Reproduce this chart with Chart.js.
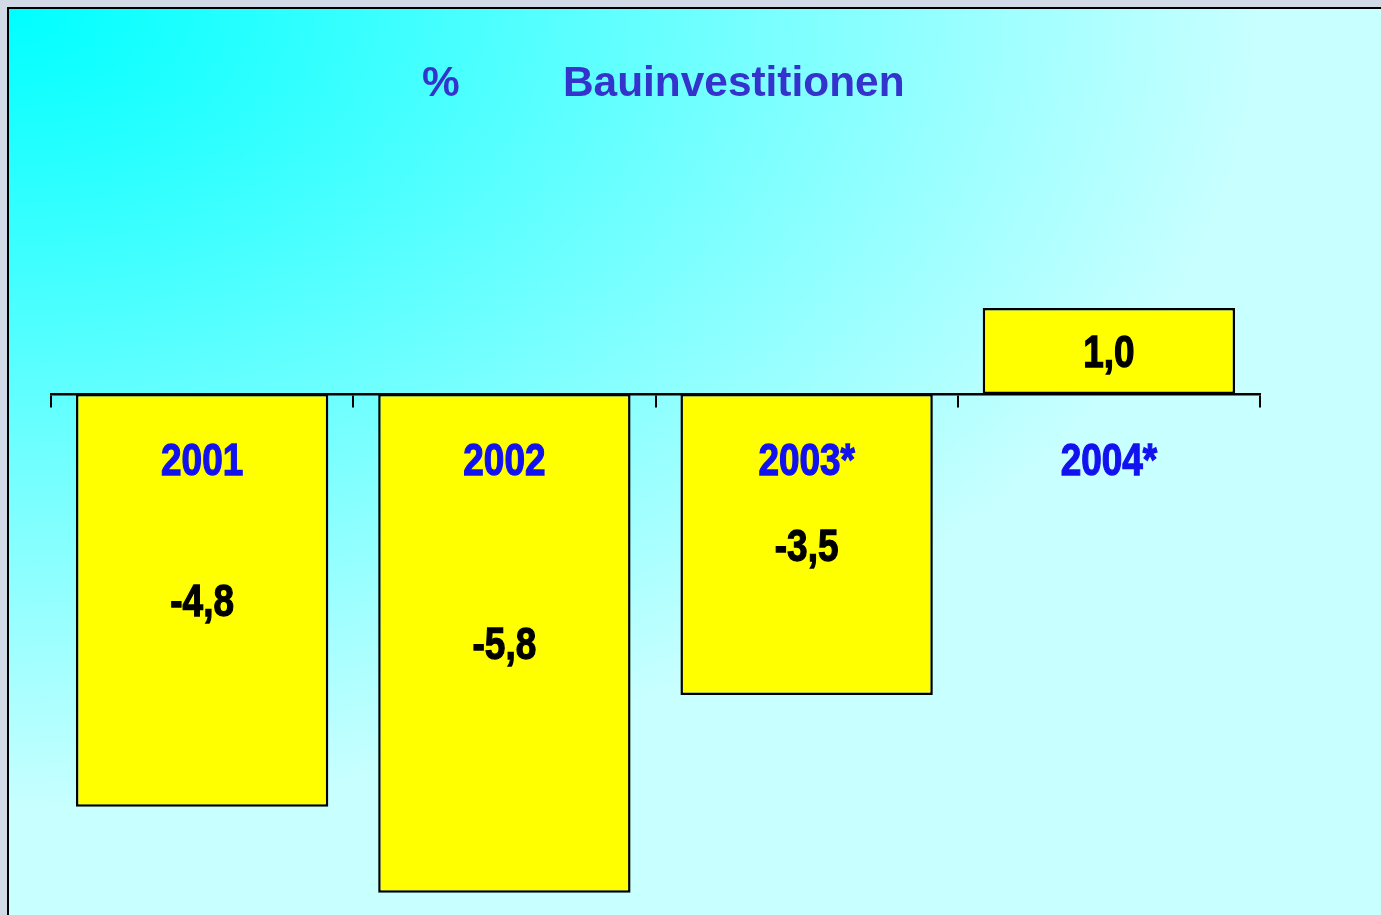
<!DOCTYPE html>
<html>
<head>
<meta charset="utf-8">
<title>Bauinvestitionen</title>
<script src="https://cdn.jsdelivr.net/npm/chart.js@4.4.1/dist/chart.umd.min.js"></script>
<style>
  html, body { margin: 0; padding: 0; }
  body { width: 1381px; height: 915px; background: #d2dae8; position: relative; overflow: hidden; }
  /* Folienhintergrund mit Verlauf aus der linken oberen Ecke */
  .panel {
    position: absolute; left: 7px; top: 7px; width: 1400px; height: 940px;
    border-left: 2px solid #000; border-top: 2px solid #000;
    background: radial-gradient(ellipse 1250px 800px at 0 0, #00ffff 0%, #c8ffff 100%);
  }
  #chart { position: absolute; left: 0; top: 0; }
</style>
</head>
<body>
<div class="panel"></div>
<canvas id="chart" width="1381" height="915"></canvas>
<script>
// ==============================
// Daten
// ==============================
const categories = ['2001', '2002', '2003*', '2004*'];
const changes = [-4.8, -5.8, -3.5, 1.0];
const titleUnit = '%';
const titleText = 'Bauinvestitionen';
const yMin = -6;
const yMax = 4;

// schmale fette Schrift (Arial Narrow gibt es nicht -> Liberation Sans gestaucht)
const LABEL_FONT = "bold 45px 'Liberation Sans', Arial, sans-serif";
const NARROW_X = 0.82;

function narrowText(ctx, text, x, y) {
  ctx.save();
  ctx.translate(x, y);
  ctx.scale(NARROW_X, 1);
  ctx.lineWidth = 1.3;
  ctx.strokeStyle = ctx.fillStyle; // etwas fetter, wie Arial Narrow Bold
  ctx.fillText(text, 0, 0);
  ctx.strokeText(text, 0, 0);
  ctx.restore();
}

// Titel: "%" und "Bauinvestitionen" getrennt gesetzt
const titlePlugin = {
  id: 'slideTitle',
  afterDraw(chart) {
    const ctx = chart.ctx;
    ctx.save();
    ctx.fillStyle = '#3434cc';
    ctx.font = "bold 42.4px 'Liberation Sans', Arial, sans-serif";
    ctx.textBaseline = 'alphabetic';
    ctx.textAlign = 'left';
    ctx.fillText(titleUnit, 422, 96);
    ctx.fillText(titleText, 563, 96);
    ctx.restore();
  }
};

// Jahreszahlen unter der Nulllinie und Werte mitten in den Balken
const barLabels = {
  id: 'barLabels',
  afterDatasetsDraw(chart) {
    const ctx = chart.ctx;
    const xScale = chart.scales.x;
    const yScale = chart.scales.y;
    const zeroY = yScale.getPixelForValue(0);
    const meta = chart.getDatasetMeta(0);
    ctx.save();
    ctx.font = LABEL_FONT;
    ctx.textAlign = 'center';
    ctx.textBaseline = 'alphabetic';
    categories.forEach((cat, i) => {
      ctx.fillStyle = '#1212ee';
      narrowText(ctx, cat, xScale.getPixelForValue(i), zeroY + 81);
    });
    meta.data.forEach((bar, i) => {
      const cy = (bar.y + bar.base) / 2;
      ctx.fillStyle = '#000';
      narrowText(ctx, changes[i].toFixed(1).replace('.', ','), bar.x, cy + 16);
    });
    ctx.restore();
  }
};

new Chart(document.getElementById('chart').getContext('2d'), {
  type: 'bar',
  data: {
    labels: categories,
    datasets: [{
      data: changes,
      backgroundColor: '#ffff00',
      borderColor: '#000',
      borderWidth: 2.5,
      borderSkipped: false,
      barPercentage: 0.835,
      categoryPercentage: 1
    }]
  },
  options: {
    responsive: false,
    animation: false,
    layout: { padding: { left: 51, right: 121, top: 50, bottom: 5 } },
    plugins: {
      legend: { display: false },
      tooltip: { enabled: false },
      title: { display: false }
    },
    scales: {
      x: {
        position: { y: 0 },
        offset: true,
        z: 1,
        grid: { offset: true, drawOnChartArea: false, drawTicks: true, tickLength: 12, color: '#000', lineWidth: 2 },
        border: { display: true, color: '#000', width: 2.5 },
        ticks: { display: false }
      },
      y: {
        display: false,
        min: yMin,
        max: yMax
      }
    }
  },
  plugins: [titlePlugin, barLabels]
});
</script>
</body>
</html>
